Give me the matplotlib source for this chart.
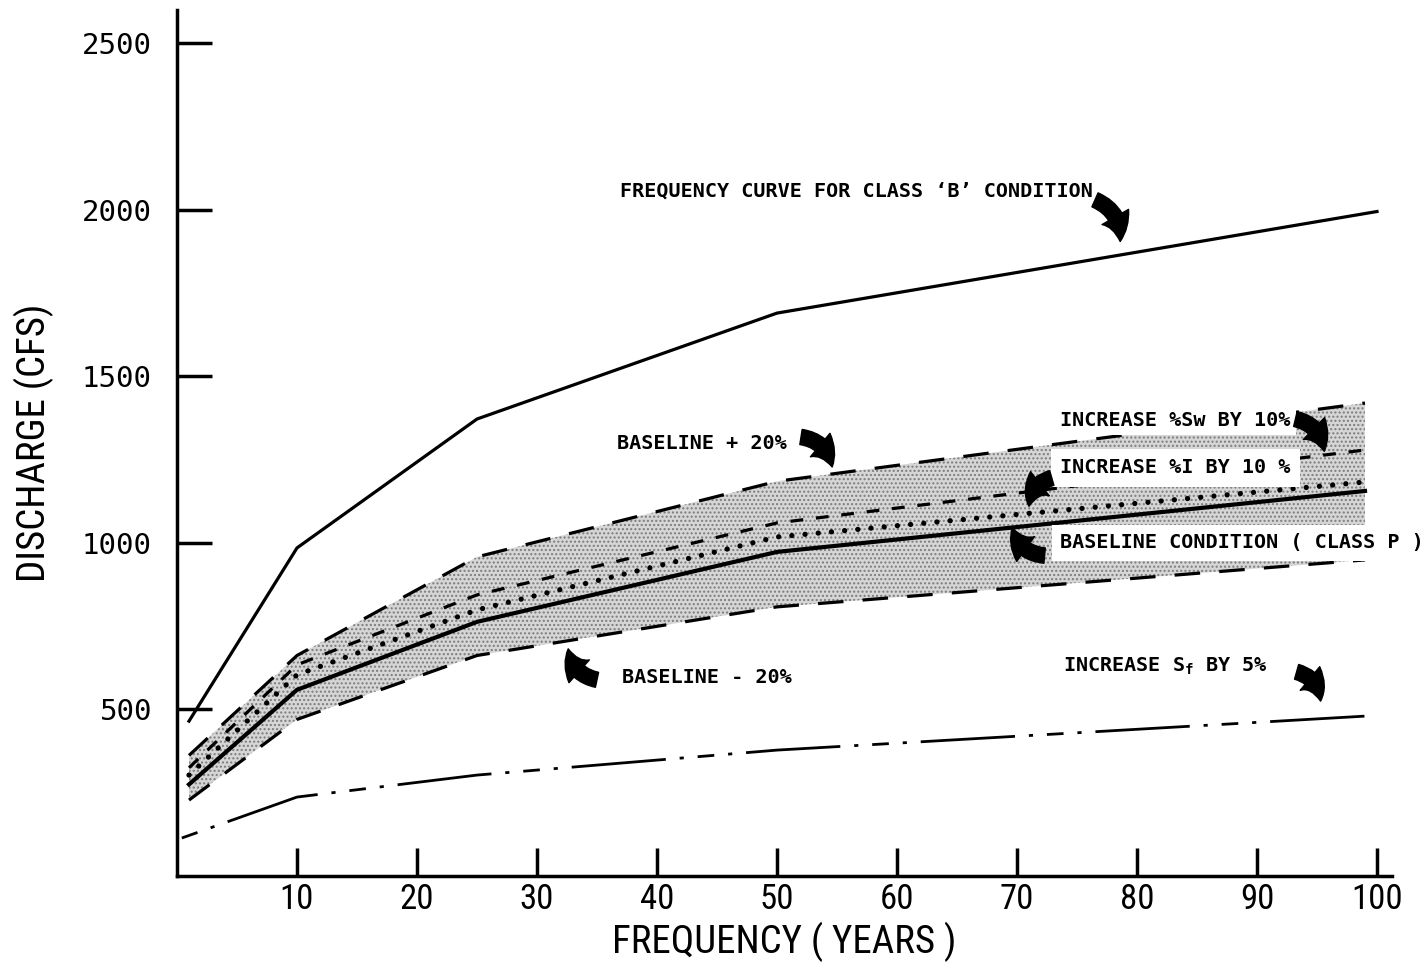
import matplotlib
matplotlib.use("Agg")
import matplotlib.pyplot as plt

plt.rcParams['font.family'] = ['DejaVu Sans Mono']
plt.rcParams['mathtext.default'] = 'regular'
plt.rcParams['hatch.linewidth'] = 1.0

# return period (years) at the break points of each curve
freq = [1, 10, 25, 50, 100]
freq_band = [1, 10, 25, 50, 99]
freq_sf = [0.4, 10, 25, 50, 99]

# discharge (cfs)
class_b = [465, 985, 1372, 1690, 1995]
baseline = [275, 559, 763, 973, 1156]
baseline_plus20 = [362, 662, 958, 1185, 1420]
baseline_minus20 = [228, 470, 662, 808, 949]
increase_sw = [325, 634, 844, 1060, 1279]
increase_i = [303, 604, 799, 1018, 1183]
increase_sf = [114, 237, 303, 378, 480]

x_ticks = [10, 20, 30, 40, 50, 60, 70, 80, 90, 100]
y_ticks = [500, 1000, 1500, 2000, 2500]

narrow = ['Roboto Condensed', 'Liberation Sans Narrow', 'DejaVu Sans']

fig = plt.figure(figsize=(14.26, 9.67), dpi=100)
ax = fig.add_axes([177 / 1426, 91 / 967, 1215 / 1426, 866 / 967])
ax.set_xlim(0, 101.25)
ax.set_ylim(0, 2600)

# shaded envelope between the +/-20% curves
ax.fill_between(freq_band, baseline_minus20, baseline_plus20,
                facecolor='#d6d6d6', edgecolor='#7c7c7c', hatch='....',
                linewidth=0, zorder=1)

ax.plot(freq, class_b, color='black', lw=2.3, zorder=3)
ax.plot(freq_band, baseline, color='black', lw=3.0, zorder=3)
ax.plot(freq_band, baseline_plus20, color='black', lw=2.3,
        dashes=(8, 6), zorder=3)
ax.plot(freq_band, baseline_minus20, color='black', lw=2.3,
        dashes=(8, 6), zorder=3)
ax.plot(freq_band, increase_sw, color='black', lw=2.3,
        dashes=(4, 4), zorder=3)
ax.plot(freq_band, increase_i, color='black', lw=3.8,
        dashes=(0.01, 2.5), dash_capstyle='round', zorder=3)
ax.plot(freq_sf, increase_sf, color='black', lw=2.0,
        dashes=(6, 5, 1.5, 5, 34, 5, 1.5, 5), zorder=3)

# axes styling
for side in ['top', 'right']:
    ax.spines[side].set_visible(False)
for side in ['left', 'bottom']:
    ax.spines[side].set_linewidth(2.5)
ax.set_xticks(x_ticks)
ax.set_xticklabels([str(v) for v in x_ticks], fontsize=25, family=narrow)
ax.set_yticks(y_ticks)
ax.set_yticklabels([str(v) for v in y_ticks], fontsize=21)
ax.tick_params(axis='x', direction='in', length=20, width=2.5, pad=5)
ax.tick_params(axis='y', direction='in', length=25, width=2.5, pad=18)
ax.set_xlabel('FREQUENCY ( YEARS )', fontsize=28, family=narrow, labelpad=4)
ax.set_ylabel('DISCHARGE (CFS)', fontsize=28, family=narrow, labelpad=20)

fs = 14.5
wt = 'bold'


def boxed(pad):
    return dict(facecolor='white', edgecolor='none', pad=pad)


ax.text(36.9, 2057, "FREQUENCY CURVE FOR CLASS \u2018B\u2019 CONDITION",
        fontsize=fs, weight=wt, va='center', zorder=5)
ax.text(36.7, 1297, "BASELINE + 20%", fontsize=fs, weight=wt, va='center', zorder=5)
ax.text(37.1, 595, "BASELINE - 20%", fontsize=fs, weight=wt, va='center', zorder=5)
ax.text(73.6, 1369, "INCREASE %Sw BY 10%", fontsize=fs, weight=wt, va='center',
        bbox=boxed(4), zorder=5)
ax.text(73.6, 1225, "INCREASE %I BY 10 %", fontsize=fs, weight=wt, va='center',
        bbox=boxed(7), zorder=5)
ax.text(73.6, 1000, "BASELINE CONDITION ( CLASS P )", fontsize=fs, weight=wt,
        va='center', bbox=boxed(6), zorder=5)
ax.text(73.8, 628, "INCREASE S$_f$ BY 5%", fontsize=fs, weight=wt, va='center', zorder=5)

# fat curved pointer arrows
arrows = [
    ((76.5, 2030), (78.6, 1905), -0.35),
    ((52.0, 1318), (54.6, 1228), -0.35),
    ((93.2, 1372), (95.6, 1275), -0.35),
    ((72.9, 1195), (71.0, 1110), 0.35),
    ((72.3, 962), (69.6, 1045), -0.35),
    ((35.0, 589), (32.6, 682), -0.35),
    ((93.3, 613), (95.3, 525), -0.35),
]
for start, end, rad in arrows:
    ax.annotate('', xy=end, xytext=start, zorder=6,
                arrowprops=dict(arrowstyle='simple,head_width=1.1,head_length=0.9,tail_width=0.55',
                                connectionstyle='arc3,rad=%s' % rad,
                                color='black', mutation_scale=20, shrinkA=0, shrinkB=0))

fig.savefig('out.png', dpi=100)
